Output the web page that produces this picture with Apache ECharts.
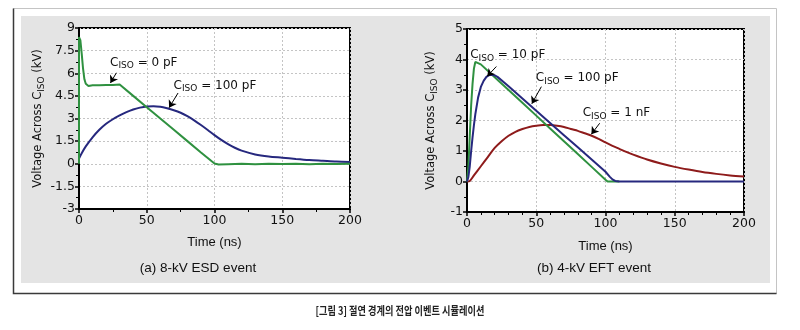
<!DOCTYPE html>
<html><head><meta charset="utf-8">
<script src="https://cdn.jsdelivr.net/npm/echarts@6/dist/echarts.min.js"></script>
<style>html,body{margin:0;padding:0;background:#fff}#c{width:800px;height:330px}</style>
</head><body><div id="c"></div>
<script>
// ---- data: (a) 8-kV ESD event ----
const escT0 = [0,0,0.5,1,2,3,4,5,6,7,8,10,15,20,25,30,40,50,60,70,80,90,100,103,110,120,130,140,150,160,170,180,190,200];
const escV0 = [0,8.4,8.35,8.2,7.3,6.3,5.6,5.3,5.18,5.15,5.16,5.2,5.2,5.22,5.22,5.25,4.5,3.75,3.0,2.25,1.5,0.75,0.02,-0.05,-0.03,0,-0.04,0,-0.02,0,-0.03,0,-0.02,0];
const escT100 = [0,2,5,10,15,20,25,30,35,40,45,50,55,60,65,70,75,80,85,90,95,100,105,110,115,120,130,140,150,160,170,180,190,200];
const escV100 = [0.35,0.7,1.15,1.75,2.25,2.65,2.95,3.2,3.42,3.6,3.72,3.8,3.82,3.78,3.68,3.55,3.38,3.15,2.88,2.57,2.24,1.9,1.58,1.3,1.06,0.87,0.62,0.48,0.4,0.32,0.25,0.2,0.15,0.12];
// ---- data: (b) 4-kV EFT event ----
const eftT10 = [0,1,2,3,4,5,6,7,10,20,30,40,50,60,70,80,90,100,101.5,110];
const eftV10 = [0,0.5,1.5,2.5,3.2,3.7,3.92,3.97,3.84,3.42,3.0,2.58,2.16,1.74,1.32,0.9,0.48,0.06,0,0];
const eftT100 = [0,1,2,3,4,5,6,8,10,12,14,16,18,20,22,30,40,50,60,70,80,90,100,103,105,107,110,118,130,150,170,200];
const eftV100 = [0,0.15,0.5,1.0,1.45,1.85,2.2,2.75,3.1,3.3,3.43,3.49,3.5,3.48,3.43,3.12,2.72,2.32,1.92,1.52,1.12,0.72,0.32,0.16,0.07,0.02,0,0,0,0,0,0];
const eftT1n = [0,2,5,10,15,20,25,30,35,40,45,50,55,60,65,70,75,80,85,90,95,100,105,110,115,120,130,140,150,160,170,180,190,200];
const eftV1n = [0,0.02,0.2,0.5,0.8,1.1,1.32,1.5,1.63,1.72,1.79,1.83,1.85,1.85,1.83,1.79,1.72,1.66,1.58,1.5,1.4,1.28,1.17,1.07,0.97,0.88,0.72,0.59,0.48,0.39,0.31,0.25,0.2,0.16];
// tick settings
const yTicksA = {min:-3, max:9, interval:1.5};
const yTicksB = {min:-1, max:5, interval:1};
const xTicks = {min:0, max:200, interval:50};
// annotation texts and anchor coordinates (data space)
const labelsA = [
  {pre:'C', sub:'ISO', post:' = 0 pF', at:[47.8,6.71], from:[27.6,6.03], to:[23.2,5.36]},
  {pre:'C', sub:'ISO', post:' = 100 pF', at:[100.3,5.18], from:[73.1,4.69], to:[66.5,3.72]}
];
const labelsB = [
  {pre:'C', sub:'ISO', post:' = 10 pF', at:[29.4,4.15], from:[21.2,3.77], to:[14.6,3.45]},
  {pre:'C', sub:'ISO', post:' = 100 pF', at:[79.6,3.39], from:[53.7,3.11], to:[46.8,2.55]},
  {pre:'C', sub:'ISO', post:' = 1 nF', at:[107.9,2.24], from:[95.8,1.91], to:[89.8,1.55]}
];
const captionA = '(a) 8-kV ESD event';
const captionB = '(b) 4-kV EFT event';
const figCaption = '[그림 3] 절연 경계의 전압 이벤트 시뮬레이션';
const xName = 'Time (ns)';

const GREEN = '#2f9140', BLUE = '#26287e', RED = '#8e1b1b';
const zip = (t, v) => t.map((x, i) => [x, v[i]]);
const richTxt = {
  c: {fontFamily:'DejaVu Sans', fontSize:12, color:'#111'},
  s: {fontFamily:'DejaVu Sans', fontSize:9, color:'#111', padding:[7,0,0,0]}
};
function annot(list) {
  return {
    symbol:'none', silent:true, animation:false,
    label:{show:false},
    lineStyle:{color:'#000', width:1, type:'solid'},
    symbolSize:7,
    data: list.map(l => [{coord:l.from, symbol:'none'}, {coord:l.to, symbol:'arrow'}])
  };
}
function annotPts(list) {
  return {
    silent:true, animation:false, symbol:'circle', symbolSize:0,
    label:{show:true, position:'inside', rich:richTxt},
    data: list.map(l => ({coord:l.at, label:{formatter:'{c|' + l.pre + '}{s|' + l.sub + '}{c|' + l.post + '}'}}))
  };
}
function xAxis(gi, gap, minorN) {
  return {type:'value', gridIndex:gi, ...xTicks,
    name:xName, nameLocation:'middle', nameGap:gap,
    nameTextStyle:{fontFamily:'Liberation Sans Narrow, Liberation Sans', fontSize:13, color:'#111'},
    axisLine:{show:true, onZero:false, lineStyle:{color:'#000', width:2}},
    axisTick:{show:true, length:4, lineStyle:{color:'#000', width:1.5}},
    minorTick:{show:true, splitNumber:minorN, length:3, lineStyle:{color:'#000'}},
    axisLabel:{fontFamily:'DejaVu Sans', fontSize:12.5, color:'#111', margin:5},
    splitLine:{show:true, lineStyle:{color:'#c4c4c4', type:[2,2], width:1}}};
}
function yAxis(gi, ticks, gap) {
  return {type:'value', gridIndex:gi, ...ticks,
    name:'{a|Voltage Across C}{s|ISO}{a| (kV)}', nameLocation:'middle', nameGap:gap,
    nameTextStyle:{rich:{a:{fontFamily:'DejaVu Sans', fontSize:11.5, color:'#111'},
      s:{fontFamily:'DejaVu Sans', fontSize:9, color:'#111', padding:[7,0,0,0]}}},
    axisLine:{show:true, onZero:false, lineStyle:{color:'#000', width:2}},
    axisTick:{show:true, length:4, lineStyle:{color:'#000', width:1.5}},
    minorTick:{show:true, splitNumber:2, length:3, lineStyle:{color:'#000'}},
    axisLabel:{fontFamily:'DejaVu Sans', fontSize:12.5, color:'#111', margin:4,
      formatter: v => String(v)},
    splitLine:{show:true, lineStyle:{color:'#c4c4c4', type:[2,2], width:1}}};
}
function line(xi, data, color, extra) {
  return Object.assign({type:'line', xAxisIndex:xi, yAxisIndex:xi, data, showSymbol:false, symbol:'none',
    lineStyle:{color, width:2}, itemStyle:{color}, animation:false, silent:true}, extra || {});
}

const chart = echarts.init(document.getElementById('c'), null, {renderer:'canvas'});
chart.setOption({
  animation:false,
  backgroundColor:'#fff',
  grid:[
    {left:79, right:450, top:28, bottom:121, show:true, backgroundColor:'#fff', borderColor:'#000', borderWidth:2},
    {left:467, right:56, top:29, bottom:118, show:true, backgroundColor:'#fff', borderColor:'#000', borderWidth:2}
  ],
  xAxis:[xAxis(0, 27, 2), xAxis(1, 28, 5)],
  yAxis:[yAxis(0, yTicksA, 33), yAxis(1, yTicksB, 28)],
  graphic:{elements:[
    {type:'rect', z:-10, shape:{x:13.5, y:8.5, width:763, height:285}, style:{fill:'#fff', stroke:'#c4c4c4', lineWidth:1}},
    {type:'polyline', z:-9, shape:{points:[[13.5,8.5],[13.5,293.5],[776.5,293.5]]}, style:{stroke:'#3a3a3a', lineWidth:1.5, fill:null}},
    {type:'rect', z:-8, shape:{x:21, y:16, width:749, height:267}, style:{fill:'#e4e4e4'}},
    {type:'text', z:5, x:198, y:268, style:{text:captionA, textAlign:'center', textVerticalAlign:'middle', font:'13.5px "Liberation Sans Narrow", "Liberation Sans"', fill:'#111'}},
    {type:'text', z:5, x:594, y:268, style:{text:captionB, textAlign:'center', textVerticalAlign:'middle', font:'13.5px "Liberation Sans Narrow", "Liberation Sans"', fill:'#111'}},
    {type:'text', z:5, x:400, y:311, scaleX:0.8, style:{text:figCaption, textAlign:'center', textVerticalAlign:'middle', font:'bold 11.5px "Noto Sans CJK KR"', fill:'#222'}}
  ]},
  series:[
    line(0, zip(escT100, escV100), BLUE, {smooth:0.3}),
    line(0, zip(escT0, escV0), GREEN, {markLine:annot(labelsA), markPoint:annotPts(labelsA)}),
    line(1, zip(eftT1n, eftV1n), RED, {smooth:0.3}),
    line(1, zip(eftT10, eftV10), GREEN),
    line(1, zip(eftT100, eftV100), BLUE, {markLine:annot(labelsB), markPoint:annotPts(labelsB)})
  ]
});
</script></body></html>
